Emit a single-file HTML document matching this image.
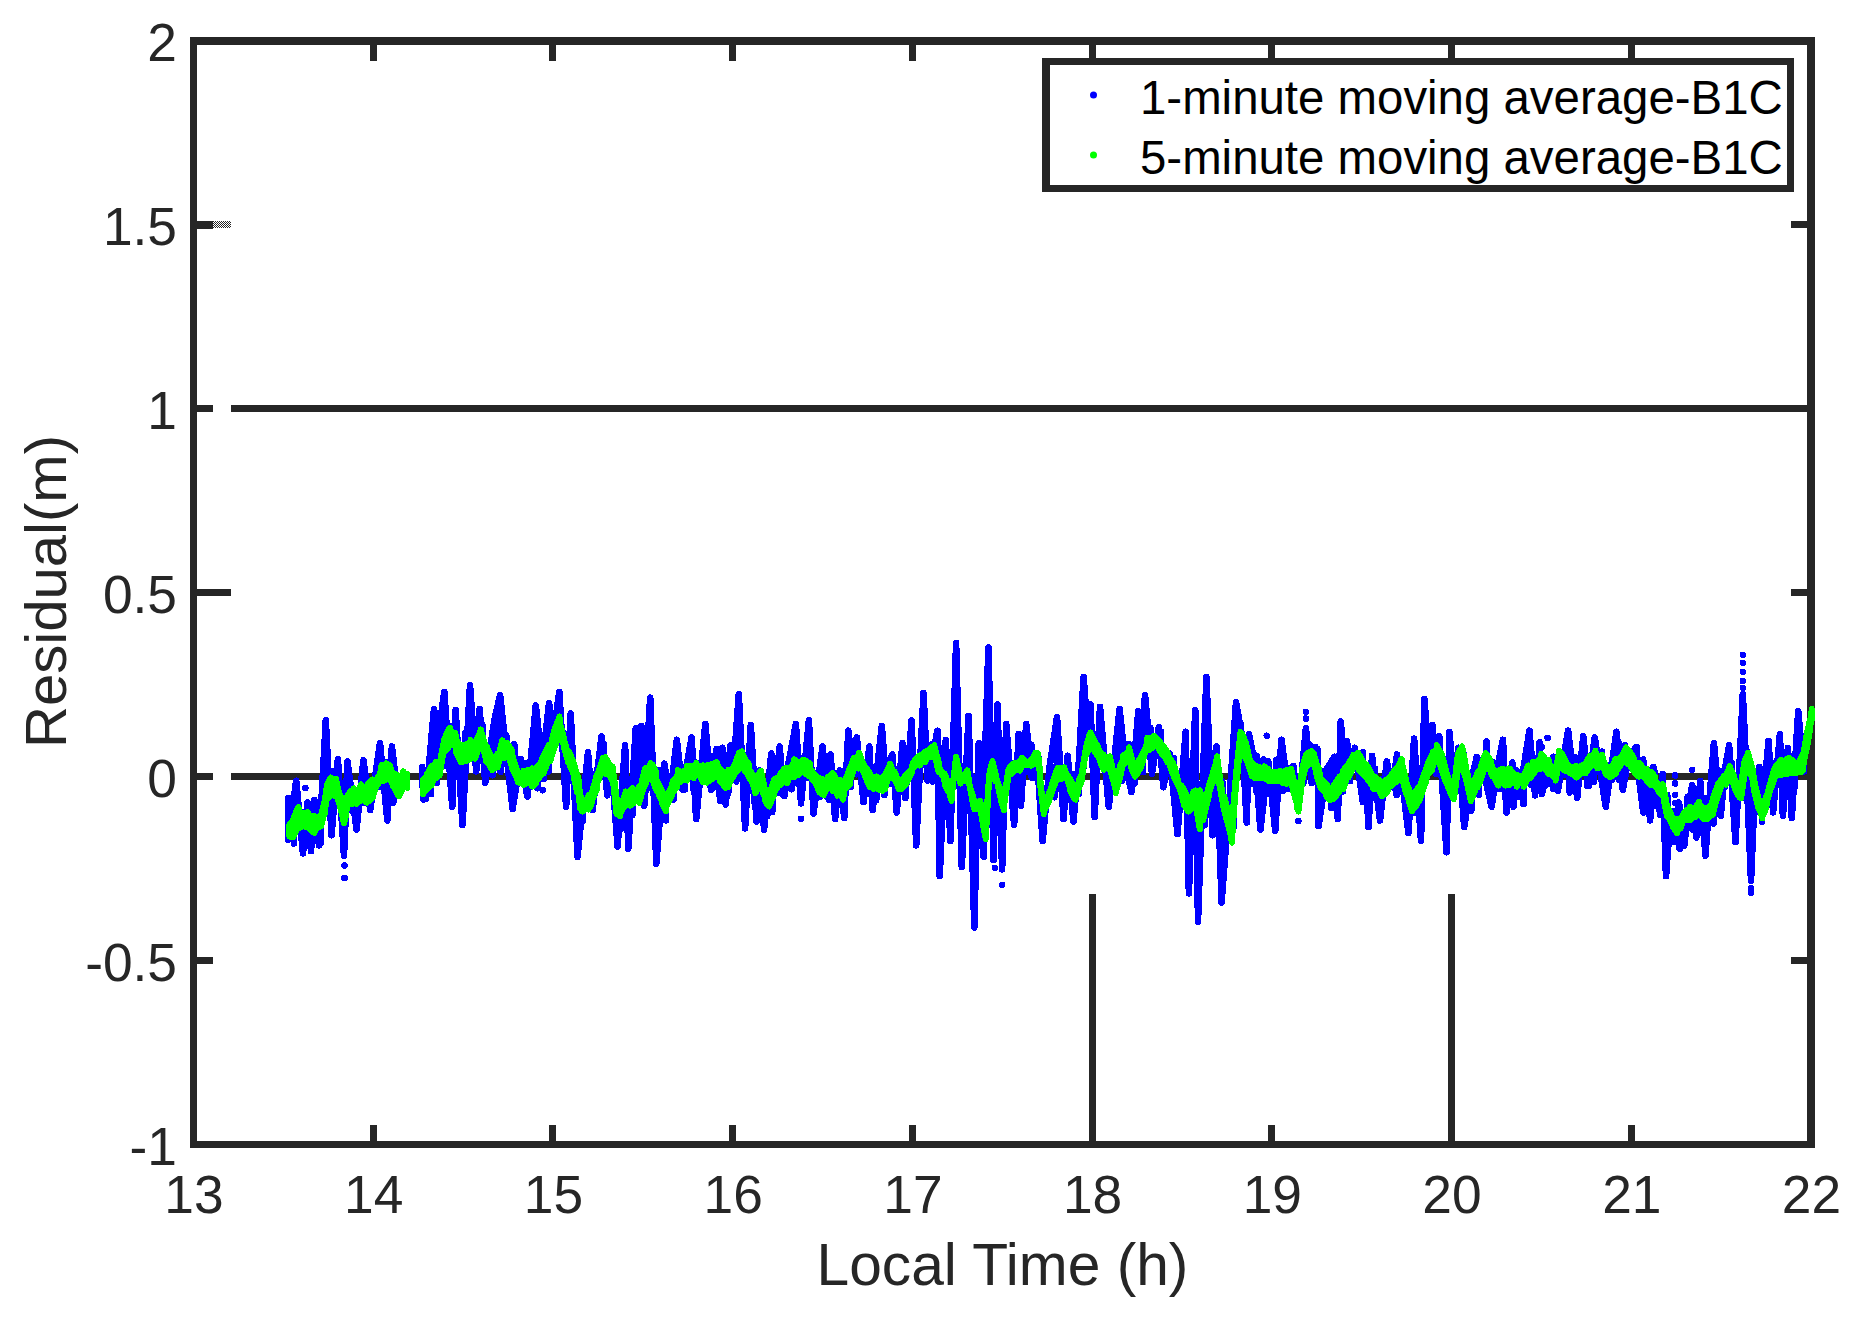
<!DOCTYPE html>
<html lang="en"><head><meta charset="utf-8"><title>Residual plot</title>
<style>html,body{margin:0;padding:0;background:#fff}svg{display:block}text{font-family:"Liberation Sans",Arial,Helvetica,sans-serif}</style></head><body>
<svg width="1863" height="1317" viewBox="0 0 1863 1317">
<defs><pattern id="chk" width="2" height="2" patternUnits="userSpaceOnUse"><rect x="0" y="0" width="1" height="1" fill="#262626"/><rect x="1" y="1" width="1" height="1" fill="#262626"/></pattern></defs>
<rect width="1863" height="1317" fill="#fff"/>
<g shape-rendering="crispEdges">
<rect x="190" y="37" width="1625" height="8" fill="#262626"/>
<rect x="190" y="1141" width="1625" height="7" fill="#262626"/>
<rect x="190" y="37" width="7" height="1111" fill="#262626"/>
<rect x="1807" y="37" width="8" height="1111" fill="#262626"/>
<rect x="370" y="45" width="7" height="16" fill="#262626"/>
<rect x="370" y="1125" width="7" height="16" fill="#262626"/>
<rect x="549" y="45" width="7" height="16" fill="#262626"/>
<rect x="549" y="1125" width="7" height="16" fill="#262626"/>
<rect x="729" y="45" width="7" height="16" fill="#262626"/>
<rect x="729" y="1125" width="7" height="16" fill="#262626"/>
<rect x="909" y="45" width="7" height="16" fill="#262626"/>
<rect x="909" y="1125" width="7" height="16" fill="#262626"/>
<rect x="1089" y="45" width="7" height="16" fill="#262626"/>
<rect x="1089" y="1125" width="7" height="16" fill="#262626"/>
<rect x="1268" y="45" width="7" height="16" fill="#262626"/>
<rect x="1268" y="1125" width="7" height="16" fill="#262626"/>
<rect x="1448" y="45" width="7" height="16" fill="#262626"/>
<rect x="1448" y="1125" width="7" height="16" fill="#262626"/>
<rect x="1628" y="45" width="7" height="16" fill="#262626"/>
<rect x="1628" y="1125" width="7" height="16" fill="#262626"/>
<rect x="197" y="221" width="16" height="8" fill="#262626"/>
<rect x="1791" y="221" width="16" height="7" fill="#262626"/>
<rect x="197" y="405" width="16" height="7" fill="#262626"/>
<rect x="1791" y="405" width="16" height="7" fill="#262626"/>
<rect x="197" y="589" width="34" height="7" fill="#262626"/>
<rect x="1791" y="589" width="16" height="7" fill="#262626"/>
<rect x="197" y="773" width="16" height="7" fill="#262626"/>
<rect x="1791" y="773" width="16" height="7" fill="#262626"/>
<rect x="197" y="957" width="16" height="7" fill="#262626"/>
<rect x="1791" y="957" width="16" height="7" fill="#262626"/>
<rect x="213" y="221" width="18" height="7" fill="url(#chk)"/>
<rect x="231" y="405" width="1576" height="7" fill="#262626"/>
<rect x="231" y="773" width="1576" height="7" fill="#262626"/>
<rect x="1089" y="894" width="7" height="247" fill="#262626"/>
<rect x="1448" y="894" width="7" height="247" fill="#262626"/>
</g>
<g fill="none" stroke="#0000ff" stroke-width="6.6" stroke-linejoin="round" stroke-linecap="round" shape-rendering="crispEdges">
<path d="M293.8,821.9V843.5M298.6,806.7V827.3M303.3,811.8V825.2M309.6,816.2V825.0M315.7,810.6V830.0M321.1,808.9V842.9M328.0,781.4V813.0M332.6,771.6V794.9M337.7,786.9V800.9M345.5,804.6V825.2M352.5,788.7V811.1M357.3,795.7V806.8M364.5,784.6V802.8M371.3,780.3V798.5M379.0,766.6V786.8M385.8,762.0V793.2M393.2,772.2V802.5M423.5,781.6V799.7M431.0,761.9V794.2M436.8,753.2V783.2M443.6,736.3V765.7M451.9,725.8V752.6M456.6,727.5V758.6M465.1,733.0V760.3M471.1,733.7V753.5M477.5,739.5V750.8M482.2,724.2V747.8M487.7,745.2V773.8M492.5,750.8V775.2M500.6,734.7V771.7M506.2,735.2V755.6M514.2,744.1V771.8M519.4,768.4V783.0M525.9,763.4V785.7M530.4,766.1V786.7M537.2,751.5V788.3M543.7,749.2V779.0M548.4,734.1V771.4M556.4,715.1V743.7M562.5,731.9V750.8M567.3,750.2V761.0M572.4,758.3V772.0M576.9,776.0V786.7M582.9,799.4V820.8M589.8,795.3V808.6M595.7,773.6V788.9M603.6,743.4V774.2M610.1,766.3V775.5M615.9,792.4V817.0M621.1,805.9V828.5M627.7,792.7V810.4M632.3,783.4V815.0M640.2,776.8V799.1M646.2,768.7V790.6M652.8,756.4V781.2M658.2,769.8V806.4M666.1,786.8V820.4M673.6,780.9V799.6M679.5,774.8V781.8M685.1,767.1V789.3M693.5,760.2V789.8M701.9,753.5V781.9M707.3,766.3V779.5M712.6,756.4V788.3M720.5,765.6V790.8M728.2,774.3V793.0M736.3,749.5V781.5M742.7,753.5V775.9M748.6,755.5V791.6M754.7,774.5V803.4M762.0,776.4V787.5M767.2,781.0V816.1M772.2,775.5V812.2M779.4,771.8V793.1M784.4,773.3V796.0M791.5,758.5V789.3M797.7,748.8V783.6M803.1,758.4V773.7M808.5,757.7V778.1M814.7,773.1V796.8M820.6,772.9V796.6M828.7,771.0V799.7M835.2,773.3V797.2M839.8,778.5V795.1M844.3,771.3V793.8M850.7,759.0V786.8M856.5,749.9V774.2M864.2,764.0V781.3M869.7,770.3V794.2M876.2,771.8V800.2M884.3,771.3V795.2M890.9,757.6V784.1M897.2,771.2V794.4M905.4,765.2V797.9M913.7,759.2V779.1M922.0,742.0V764.6M927.0,745.6V760.3M932.4,743.9V781.4M940.1,747.7V780.8M947.4,767.9V796.0M955.5,740.8V777.7M963.8,766.6V803.1M972.2,776.6V808.7M978.5,789.8V822.8M983.7,812.6V856.8M988.3,773.9V811.6M992.9,757.4V798.1M999.4,783.0V832.6M1007.1,758.4V791.0M1012.7,763.7V804.8M1018.2,760.1V775.5M1026.4,747.2V771.5M1031.5,745.1V776.5M1038.8,758.1V766.6M1046.0,795.6V810.0M1054.3,766.9V797.3M1059.1,755.7V777.4M1067.1,767.3V786.7M1073.8,774.4V800.7M1078.8,774.9V793.9M1083.7,757.8V767.4M1089.1,734.1V750.6M1096.6,740.8V760.2M1101.8,749.6V761.8M1107.3,759.7V778.5M1114.0,773.6V790.8M1122.2,759.0V780.7M1128.5,743.9V772.5M1134.5,757.3V783.6M1143.0,746.2V772.1M1150.3,727.9V751.6M1156.2,737.6V746.7M1161.0,731.8V754.7M1166.1,751.2V772.9M1174.1,758.5V780.7M1179.6,779.3V798.1M1184.7,787.8V805.9M1193.1,769.6V820.9M1198.5,785.9V829.6M1204.5,803.5V825.3M1210.9,765.2V794.0M1217.4,760.9V779.2M1222.2,781.1V802.4M1226.8,802.0V826.9M1233.7,799.3V827.1M1240.8,724.5V757.6M1246.9,745.8V774.1M1252.0,754.9V784.2M1256.6,755.7V791.1M1263.6,759.5V791.8M1268.7,763.7V787.1M1276.5,759.7V793.4M1283.4,757.9V790.7M1290.7,768.0V778.5M1295.7,785.4V799.4M1303.5,756.7V782.8M1310.5,745.3V771.2M1315.0,746.8V779.1M1321.6,770.8V797.1M1326.3,775.2V798.0M1331.1,784.8V807.7M1336.4,773.7V808.8M1342.9,770.7V791.4M1350.1,751.7V781.2M1357.2,754.7V764.5M1362.7,752.2V776.0M1369.5,773.5V780.7M1375.1,768.8V798.0M1382.3,779.0V798.7M1388.6,772.8V788.7M1396.7,768.9V794.9M1405.0,777.6V791.7M1412.7,783.0V813.1M1418.3,788.8V814.4M1423.7,767.4V785.7M1430.3,746.2V770.6M1438.0,743.6V773.3M1445.4,765.5V790.7M1451.8,785.5V791.9M1458.3,750.2V769.0M1463.3,752.2V769.4M1471.2,792.0V810.8M1479.0,771.0V794.8M1486.4,741.6V767.8M1492.4,761.8V791.5M1499.2,769.5V789.0M1504.8,773.0V781.5M1512.7,768.3V798.8M1518.2,771.9V793.1M1523.4,771.8V804.2M1531.5,752.1V785.2M1539.6,742.3V775.9M1547.0,762.1V784.4M1553.3,756.7V789.0M1559.0,755.2V781.5M1564.0,753.3V774.5M1569.7,753.4V792.4M1575.2,757.5V781.0M1581.9,758.0V774.2M1587.1,757.6V786.1M1593.6,753.3V782.1M1602.0,751.7V768.2M1607.3,765.0V779.7M1612.2,764.1V779.6M1619.0,743.1V779.9M1625.1,745.3V769.4M1631.1,751.9V764.9M1636.7,747.3V772.4M1643.2,759.5V794.4M1648.6,770.5V786.3M1654.7,772.1V805.7M1662.6,774.1V794.9M1667.2,794.8V836.0M1673.6,811.5V827.7M1679.7,806.4V848.8M1687.6,797.2V825.3M1692.5,805.8V829.5M1699.8,792.5V832.4M1706.9,798.1V826.7M1713.6,800.3V823.4M1719.0,770.6V805.8M1724.7,773.7V787.2M1731.8,763.4V783.6M1736.5,775.0V802.2M1742.6,775.4V797.8M1747.1,751.4V772.2M1755.5,776.5V812.0M1761.9,806.6V821.7M1770.2,771.7V796.1M1774.8,762.8V791.4M1781.0,760.3V784.7M1789.2,758.5V769.1M1795.0,759.1V786.6M288.2,797.9V833.6M296.2,780.8V821.5M303.0,853.4V821.1M307.6,802.5V820.9M311.0,851.1V820.9M314.4,800.2V823.6M319.0,845.4V821.8M325.8,720.4V797.2M331.5,835.2V786.7M337.9,759.2V792.2M344.0,855.7V817.7M347.4,761.5V799.5M356.6,829.5V800.6M363.4,760.3V793.4M370.2,810.1V790.3M380.0,743.2V777.1M387.3,820.4V772.7M391.9,746.6V776.7M397.6,794.2V786.2M422.2,767.1V785.8M426.0,798.7V782.5M434.0,709.1V772.6M438.6,732.7V768.6M444.3,692.0V747.1M452.2,806.7V738.7M455.6,710.2V742.5M462.5,824.9V753.8M470.0,685.1V750.0M476.2,771.4V749.0M479.6,709.1V741.0M485.3,782.8V750.8M494.4,719.7V762.1M500.1,695.4V755.3M506.9,758.5V745.9M512.6,809.0V761.6M520.6,759.2V776.9M527.4,796.5V778.0M535.8,705.6V774.7M549.0,703.4V753.9M553.6,732.7V741.7M559.3,692.0V726.6M566.1,806.7V750.5M570.7,713.6V763.9M577.5,856.8V784.1M588.0,752.3V803.6M592.5,810.1V795.4M601.6,736.4V765.8M607.3,795.3V766.6M617.6,846.6V806.7M625.1,745.5V800.5M628.3,848.8V797.8M635.8,728.4V795.1M638.8,755.5V794.9M641.5,726.1V787.6M644.2,805.6V778.9M650.2,697.7V767.9M656.3,863.7V781.2M664.3,763.7V800.7M676.8,739.8V781.6M682.5,789.6V776.3M691.6,737.5V771.5M696.2,819.2V769.8M705.3,723.9V774.4M711.0,789.6V771.0M716.7,748.9V767.6M720.1,801.0V775.8M722.4,747.8V778.6M725.8,804.4V778.8M730.3,745.5V775.3M738.8,694.3V762.0M745.1,828.3V764.7M750.8,725.0V776.7M756.5,821.5V784.3M760.0,770.6V780.0M764.1,829.5V790.3M771.3,753.5V795.5M779.8,746.6V780.3M782.7,794.2V777.7M795.9,723.9V767.3M801.0,803.3V765.3M808.9,720.4V771.1M813.5,813.5V776.7M822.6,746.6V785.0M827.2,796.5V782.6M830.6,754.6V779.4M835.1,819.2V785.2M839.7,770.6V789.0M844.2,818.1V788.1M848.3,730.7V779.9M856.8,737.5V761.5M863.6,802.1V767.8M869.3,746.6V777.4M872.7,810.1V782.0M881.8,726.1V783.5M892.3,754.6V772.1M896.8,812.4V782.4M902.5,743.2V783.7M911.6,720.4V769.5M916.2,845.4V764.1M923.5,693.1V758.4M927.6,780.5V755.4M937.4,730.7V760.8M939.7,876.2V768.9M945.8,739.8V781.6M950.4,840.9V792.2M956.1,643.0V759.6M961.8,867.1V780.5M968.6,715.9V781.6M974.3,927.4V806.3M978.8,743.2V804.5M983.4,810.1V821.8M988.4,647.6V788.1M993.6,860.2V771.0M997.5,704.5V782.7M1002.1,869.3V797.9M1006.2,723.9V788.3M1014.1,824.9V768.4M1018.7,734.1V765.0M1021.0,805.6V764.1M1026.2,723.9V764.1M1032.4,778.2V762.4M1042.6,840.9V802.5M1049.5,767.6V794.9M1057.0,717.0V774.5M1063.6,819.2V770.7M1067.7,755.8V779.6M1073.4,821.5V792.3M1079.1,758.5V786.1M1083.6,677.2V764.4M1087.7,732.7V745.5M1090.5,704.5V739.1M1094.6,817.0V745.5M1100.0,706.8V755.1M1108.7,806.7V763.0M1114.4,758.5V781.2M1119.6,709.1V772.4M1125.8,767.6V758.9M1131.5,791.9V760.5M1138.3,711.3V764.6M1141.7,732.7V758.3M1145.1,695.4V749.5M1152.0,773.7V740.6M1158.8,727.3V744.7M1163.3,787.3V751.2M1169.7,753.5V762.7M1177.5,834.0V781.7M1185.7,731.8V800.1M1188.9,893.3V804.5M1195.2,710.2V796.0M1198.0,921.7V811.8M1206.4,677.2V800.1M1212.5,835.2V777.8M1216.4,746.6V766.2M1221.6,902.4V792.4M1229.6,797.2V825.1M1236.0,702.2V782.4M1246.7,822.6V753.8M1249.0,734.1V761.8M1260.4,829.5V774.5M1268.3,761.5V775.5M1275.2,830.6V776.2M1281.5,739.8V776.4M1287.7,787.3V775.4M1293.4,766.0V784.7M1305.9,728.4V761.2M1311.6,782.8V759.6M1317.3,748.9V772.2M1318.5,826.1V776.7M1327.6,767.6V791.1M1334.4,756.9V791.7M1337.8,819.2V787.6M1340.8,721.6V784.1M1344.0,764.6V778.2M1346.9,740.9V772.5M1354.9,747.8V761.8M1362.9,802.1V768.0M1368.6,827.2V775.5M1372.0,755.8V779.8M1380.0,820.4V788.1M1386.8,761.5V784.6M1397.0,754.6V774.8M1402.7,785.8V771.8M1408.4,832.9V792.9M1414.1,738.7V800.7M1421.0,840.9V788.2M1424.4,698.8V778.2M1432.3,725.0V761.2M1435.8,773.7V754.9M1439.2,736.4V757.7M1446.5,852.3V775.8M1449.4,731.8V784.6M1458.5,747.8V758.9M1464.2,827.2V765.5M1471.1,781.2V795.4M1476.8,756.9V781.7M1484.7,776.7V761.8M1491.6,806.7V769.9M1497.3,767.6V777.6M1503.0,739.8V777.4M1506.4,812.4V776.7M1512.3,762.6V775.9M1513.4,806.7V776.7M1516.8,770.6V779.0M1519.1,796.5V779.7M1529.4,730.7V771.7M1535.1,795.3V765.6M1541.9,794.2V761.3M1557.8,790.8V764.2M1568.1,730.7V768.1M1577.2,797.6V771.3M1583.3,736.4V766.7M1588.6,786.2V763.2M1594.7,737.5V759.3M1601.1,776.7V761.8M1605.7,806.7V766.8M1616.4,731.8V764.1M1622.8,789.6V757.6M1635.3,747.8V765.3M1643.3,812.4V773.3M1650.1,820.4V779.2M1653.5,767.1V781.8M1660.3,814.7V788.1M1666.0,876.2V804.0M1674.0,842.0V824.1M1678.6,802.5V825.1M1684.3,845.4V817.3M1688.8,804.0V814.0M1692.2,785.4V812.1M1696.3,837.5V810.3M1700.2,780.8V810.1M1705.4,855.7V815.0M1710.5,785.8V809.3M1713.9,743.2V803.1M1720.7,815.8V786.0M1725.3,767.6V778.4M1729.1,745.5V775.0M1735.5,842.0V785.8M1740.1,753.9V790.9M1742.8,694.3V780.7M1746.9,781.2V760.3M1751.0,880.7V769.7M1759.4,767.1V807.0M1763.3,801.0V811.3M1768.5,740.9V791.6M1773.1,812.4V778.2M1779.9,734.1V768.8M1782.9,815.8V767.0M1787.9,747.8V765.6M1791.8,818.1V767.1M1798.2,711.3V767.6M1803.8,771.4V756.9"/>
<polyline points="288.2,797.9 288.2,839.7 296.2,780.8 303.0,853.4 307.6,802.5 311.0,851.1 314.4,800.2 319.0,845.4 325.8,720.4 331.5,835.2 337.9,759.2 344.0,855.7 347.4,761.5 356.6,829.5 363.4,760.3 370.2,810.1 380.0,743.2 387.3,820.4 391.9,746.6 397.6,794.2"/>
<polyline points="422.2,767.1 426.0,798.7 434.0,709.1 438.6,732.7 444.3,692.0 452.2,806.7 455.6,710.2 462.5,824.9 470.0,685.1 476.2,771.4 479.6,709.1 485.3,782.8 494.4,719.7 500.1,695.4 506.9,758.5 512.6,809.0 520.6,759.2 527.4,796.5 535.8,705.6 542.2,764.6 549.0,703.4 553.6,732.7 559.3,692.0 566.1,806.7 570.7,713.6 577.5,856.8 588.0,752.3 592.5,810.1 601.6,736.4 607.3,795.3 611.9,770.6 617.6,846.6 625.1,745.5 628.3,848.8 635.8,728.4 638.8,755.5 641.5,726.1 644.2,805.6 650.2,697.7 656.3,863.7 664.3,763.7 670.0,796.5 676.8,739.8 682.5,789.6 691.6,737.5 696.2,819.2 705.3,723.9 711.0,789.6 716.7,748.9 720.1,801.0 722.4,747.8 725.8,804.4 730.3,745.5 733.8,764.6 738.8,694.3 745.1,828.3 750.8,725.0 756.5,821.5 760.0,770.6 764.1,829.5 771.3,753.5 775.4,782.8 779.8,746.6 782.7,794.2 795.9,723.9 801.0,803.3 808.9,720.4 813.5,813.5 822.6,746.6 827.2,796.5 830.6,754.6 835.1,819.2 839.7,770.6 844.2,818.1 848.3,730.7 852.2,764.6 856.8,737.5 863.6,802.1 869.3,746.6 872.7,810.1 881.8,726.1 886.4,785.1 892.3,754.6 896.8,812.4 902.5,743.2 907.1,782.8 911.6,720.4 916.2,845.4 923.5,693.1 927.6,780.5 932.1,758.5 937.4,730.7 939.7,876.2 945.8,739.8 950.4,840.9 956.1,643.0 961.8,867.1 968.6,715.9 974.3,927.4 978.8,743.2 983.4,810.1 988.4,647.6 993.6,860.2 997.5,704.5 1002.1,869.3 1006.2,723.9 1014.1,824.9 1018.7,734.1 1021.0,805.6 1026.2,723.9 1032.4,778.2 1036.9,756.9 1042.6,840.9 1049.5,767.6 1057.0,717.0 1063.6,819.2 1067.7,755.8 1073.4,821.5 1079.1,758.5 1083.6,677.2 1087.7,732.7 1090.5,704.5 1094.6,817.0 1100.0,706.8 1108.7,806.7 1114.4,758.5 1119.6,709.1 1125.8,767.6 1131.5,791.9 1138.3,711.3 1141.7,732.7 1145.1,695.4 1152.0,773.7 1158.8,727.3 1163.3,787.3 1169.7,753.5 1177.5,834.0 1185.7,731.8 1188.9,893.3 1195.2,710.2 1198.0,921.7 1206.4,677.2 1212.5,835.2 1216.4,746.6 1221.6,902.4 1229.6,797.2 1236.0,702.2 1242.1,735.7 1246.7,822.6 1249.0,734.1 1255.8,767.6 1260.4,829.5 1268.3,761.5 1275.2,830.6 1281.5,739.8 1287.7,787.3 1293.4,766.0 1298.4,810.1 1305.9,728.4 1311.6,782.8 1317.3,748.9 1318.5,826.1 1327.6,767.6 1334.4,756.9 1337.8,819.2 1340.8,721.6 1344.0,764.6 1346.9,740.9 1350.8,773.7 1354.9,747.8 1362.9,802.1 1365.8,779.7 1368.6,827.2 1372.0,755.8 1380.0,820.4 1386.8,761.5 1392.5,787.3 1397.0,754.6 1402.7,785.8 1408.4,832.9 1414.1,738.7 1421.0,840.9 1424.4,698.8 1428.9,764.6 1432.3,725.0 1435.8,773.7 1439.2,736.4 1446.5,852.3 1449.4,731.8 1454.0,782.8 1458.5,747.8 1464.2,827.2 1471.1,781.2 1476.8,756.9 1484.7,776.7 1491.6,806.7 1497.3,767.6 1503.0,739.8 1506.4,812.4 1512.3,762.6 1513.4,806.7 1516.8,770.6 1519.1,796.5 1529.4,730.7 1535.1,795.3 1538.5,756.9 1541.9,794.2 1549.9,761.5 1557.8,790.8 1568.1,730.7 1572.6,767.6 1577.2,797.6 1583.3,736.4 1588.6,786.2 1594.7,737.5 1601.1,776.7 1605.7,806.7 1616.4,731.8 1622.8,789.6 1628.5,758.5 1635.3,747.8 1643.3,812.4 1646.7,784.2 1650.1,820.4 1653.5,767.1 1660.3,814.7 1663.1,791.1 1666.0,876.2 1670.6,816.1 1674.0,842.0 1678.6,802.5 1684.3,845.4 1688.8,804.0 1692.2,785.4 1696.3,837.5 1700.2,780.8 1705.4,855.7 1710.5,785.8 1713.9,743.2 1720.7,815.8 1725.3,767.6 1729.1,745.5 1735.5,842.0 1740.1,753.9 1742.8,694.3 1746.9,781.2 1751.0,880.7 1754.9,788.1 1759.4,767.1 1763.3,801.0 1768.5,740.9 1773.1,812.4 1779.9,734.1 1782.9,815.8 1787.9,747.8 1791.8,818.1 1798.2,711.3 1803.8,771.4"/>
<path d="M305.3,788.1h0.01M344.5,865.5h0.01M344.5,878.0h0.01M542.7,790.3h0.01M549.0,704.9h0.01M801.0,818.8h0.01M636.9,731.1h0.01M636.9,740.2h0.01M994.8,867.8h0.01M1002.1,884.9h0.01M997.5,708.3h0.01M997.5,717.4h0.01M988.4,706.1h0.01M988.4,715.2h0.01M988.4,724.3h0.01M1266.7,735.7h0.01M1288.8,789.2h0.01M1298.4,821.1h0.01M1305.9,711.8h0.01M1305.9,718.6h0.01M1541.9,747.1h0.01M1547.6,737.9h0.01M1675.1,775.5h0.01M1675.1,783.5h0.01M1675.1,794.9h0.01M1675.1,802.9h0.01M1692.2,769.8h0.01M1742.8,654.8h0.01M1742.8,662.8h0.01M1742.8,671.9h0.01M1742.8,681.0h0.01M1742.8,687.8h0.01M1751.0,888.3h0.01M1751.0,892.8h0.01"/>
</g>
<g fill="#00ff00" stroke="#00ff00" stroke-width="6" stroke-linejoin="round" shape-rendering="crispEdges">
<polygon points="289.4,824.4 292.8,820.9 294.8,814.7 298.5,807.0 300.0,812.7 304.2,817.9 304.5,812.6 308.1,812.4 309.9,816.7 314.0,815.6 315.6,818.9 317.9,817.0 321.3,814.6 323.4,805.7 324.7,801.0 326.9,785.4 327.1,784.8 330.8,777.6 332.6,781.9 336.0,778.6 337.2,784.8 339.9,795.5 340.6,795.3 344.0,808.9 345.8,802.3 347.4,796.1 350.3,791.0 352.0,790.4 353.8,788.4 356.6,796.2 357.5,793.6 361.1,784.5 361.8,790.4 366.8,786.9 367.9,783.9 372.6,779.6 374.8,782.5 376.0,780.5 380.2,773.3 381.6,765.0 383.9,768.3 386.2,763.4 389.8,765.5 391.9,771.3 393.2,774.0 396.4,774.5 398.7,780.7 399.5,781.6 403.3,771.4 403.7,774.1 407.1,774.0 407.1,787.8 403.7,783.2 403.3,787.1 399.5,795.4 398.7,796.3 396.4,791.9 393.2,786.2 391.9,782.6 389.8,779.5 386.2,777.8 383.9,781.0 381.6,780.9 380.2,780.4 376.0,787.3 374.8,790.6 372.6,797.9 367.9,801.8 366.8,802.7 361.8,798.9 361.1,800.6 357.5,802.4 356.6,804.0 353.8,802.6 352.0,804.3 350.3,801.7 347.4,803.0 345.8,816.8 344.0,823.2 340.6,809.2 339.9,806.3 337.2,796.5 336.0,796.7 332.6,794.5 330.8,795.5 327.1,798.8 326.9,794.6 324.7,813.5 323.4,816.4 321.3,826.0 317.9,827.4 315.6,830.2 314.0,832.9 309.9,829.7 308.1,827.0 304.5,826.7 304.2,825.4 300.0,827.6 298.5,824.0 294.8,834.1 292.8,837.4 289.4,836.6"/>
<polygon points="423.1,779.1 427.0,776.6 427.2,773.7 431.7,765.8 434.0,768.1 435.8,761.9 439.7,764.5 441.0,755.9 443.1,744.7 444.6,738.3 448.3,729.7 450.0,727.9 452.1,733.2 455.5,733.2 455.6,737.2 461.2,749.3 461.3,745.0 465.9,744.7 465.9,744.2 469.9,742.4 470.5,739.9 474.1,745.0 475.0,742.7 480.1,732.0 480.7,729.4 484.6,742.9 486.4,745.8 488.3,749.9 492.1,757.9 493.7,757.9 497.8,753.4 498.7,755.1 502.3,740.4 504.6,743.8 506.9,742.7 507.9,745.0 511.5,748.9 512.4,755.6 517.2,770.4 517.8,771.7 522.8,775.2 523.3,770.6 529.1,770.4 529.7,769.9 532.2,768.4 536.1,771.1 536.5,767.3 539.4,764.9 543.0,757.0 543.3,756.5 548.9,744.9 550.2,748.2 553.7,732.4 554.7,729.0 559.5,716.5 559.7,721.7 563.6,737.0 563.8,738.7 568.4,755.2 569.2,751.4 573.5,762.1 574.1,764.7 577.3,774.6 578.7,780.6 580.0,794.9 582.6,799.4 585.7,803.1 588.5,795.1 591.4,795.5 591.8,793.2 596.6,775.3 597.1,776.3 601.5,762.1 602.8,758.1 605.1,757.1 608.5,762.5 609.2,764.3 612.6,766.6 613.0,770.6 616.2,794.0 616.4,797.2 619.9,809.3 620.0,806.3 624.8,795.5 625.6,791.5 629.8,792.0 632.4,787.9 633.4,789.0 636.4,791.1 639.2,786.4 640.4,788.0 644.9,768.4 645.4,772.1 649.0,767.3 650.6,763.2 652.9,765.0 656.3,771.9 656.5,779.3 661.9,791.0 662.0,791.2 666.1,795.5 666.6,798.8 669.7,789.6 671.1,787.7 673.1,780.6 677.2,776.5 677.9,770.3 681.9,772.3 686.8,769.4 687.1,765.9 690.1,766.1 693.6,767.5 696.2,762.9 698.7,768.0 702.9,765.2 705.3,767.0 706.7,765.5 710.7,764.3 716.5,762.7 716.7,762.3 720.5,771.4 721.2,769.8 725.2,775.7 728.1,770.2 729.2,774.4 733.5,766.4 734.9,763.7 739.1,752.7 741.7,751.3 745.1,759.4 748.6,763.4 749.1,769.2 752.7,774.7 755.4,779.6 757.9,774.8 761.1,770.7 761.5,773.2 764.6,787.4 765.6,791.9 769.1,799.3 770.3,790.6 773.6,780.9 774.5,779.2 780.0,776.3 780.5,773.8 784.2,768.7 787.3,767.8 789.9,768.6 794.1,762.3 794.2,759.3 797.7,762.4 800.8,761.5 802.1,760.2 805.4,760.5 810.1,763.7 810.3,768.9 816.1,776.5 816.9,777.0 819.3,778.1 823.7,779.6 824.2,781.7 828.3,776.7 830.6,775.6 832.8,773.0 836.3,779.0 837.4,784.9 840.1,779.9 843.1,787.1 844.7,782.0 849.9,767.3 850.5,767.1 853.8,757.8 854.5,757.9 858.3,756.4 859.0,752.6 863.7,764.7 864.7,765.9 869.6,772.7 871.6,778.5 873.2,777.0 876.6,776.5 878.4,778.4 882.4,777.1 885.2,774.3 888.3,767.8 889.8,766.3 890.0,763.6 892.8,770.5 894.6,771.7 895.9,774.0 899.1,785.3 901.7,781.0 905.9,774.5 905.9,776.7 911.6,768.3 912.8,762.8 916.4,758.0 919.6,755.6 921.9,754.7 925.4,751.5 926.4,752.1 930.7,747.8 934.4,745.3 934.4,746.3 938.6,761.9 939.0,767.1 944.2,775.2 944.7,773.7 949.6,785.8 951.5,790.7 953.2,780.3 956.1,756.9 956.9,760.4 960.6,777.1 961.1,778.3 965.6,773.4 967.4,770.4 969.8,785.6 973.1,796.9 974.3,801.1 976.9,802.8 980.0,800.8 982.0,808.2 985.7,833.6 987.7,795.7 989.1,775.8 990.9,766.7 992.5,761.2 995.5,773.3 997.1,780.8 1000.8,790.0 1003.9,800.5 1003.9,799.0 1008.5,769.2 1009.4,767.6 1012.8,763.8 1017.6,762.4 1019.8,761.5 1022.2,757.8 1027.1,762.9 1031.0,759.6 1031.2,761.6 1035.3,752.9 1038.1,753.3 1040.1,771.1 1040.3,779.0 1043.8,813.0 1044.3,809.6 1049.3,791.6 1049.5,793.8 1053.6,778.7 1056.3,770.9 1058.0,768.0 1061.0,768.7 1064.3,767.4 1065.9,772.2 1070.0,779.6 1070.4,779.0 1074.1,789.0 1075.6,794.2 1079.4,778.5 1081.3,775.2 1084.7,755.0 1085.9,747.9 1089.1,735.9 1090.5,732.4 1092.6,737.0 1097.0,745.1 1097.3,744.9 1100.4,753.1 1103.7,754.5 1104.1,759.5 1108.0,757.5 1109.8,756.3 1111.3,762.2 1115.5,781.5 1115.6,782.3 1120.2,765.8 1122.3,761.6 1123.3,755.4 1128.2,752.2 1129.2,747.4 1131.4,757.6 1134.9,766.2 1136.6,764.4 1140.6,757.2 1142.0,755.3 1146.5,744.9 1147.4,737.6 1149.7,739.2 1154.2,736.4 1154.2,736.0 1158.3,739.8 1161.1,743.5 1164.2,747.0 1167.6,752.3 1167.9,754.9 1173.1,763.2 1174.7,767.4 1179.1,784.7 1181.6,785.8 1184.3,790.3 1188.4,798.7 1189.8,801.3 1193.4,791.7 1195.2,790.6 1199.3,818.3 1199.8,821.2 1200.0,790.3 1203.4,806.0 1203.8,807.3 1209.1,784.9 1209.6,783.0 1215.4,765.1 1217.1,756.2 1218.9,770.4 1222.8,795.9 1224.3,796.2 1230.0,818.7 1231.9,829.9 1233.2,808.0 1236.4,769.9 1237.3,760.9 1240.5,731.9 1242.6,734.6 1245.6,741.8 1246.0,743.1 1251.3,766.0 1251.7,762.8 1255.6,766.1 1259.2,766.7 1261.0,769.0 1264.4,766.4 1268.3,769.1 1268.9,771.2 1274.7,772.0 1278.3,773.1 1279.7,770.7 1282.1,773.4 1286.6,769.8 1290.6,771.4 1291.1,768.9 1293.7,780.0 1296.8,793.2 1297.2,792.7 1298.4,803.3 1300.7,778.6 1302.5,766.8 1305.9,754.7 1306.5,753.9 1311.6,751.2 1313.9,753.8 1317.3,766.6 1318.5,767.4 1320.8,778.3 1325.3,783.4 1326.1,783.7 1329.5,789.1 1333.3,786.3 1334.1,784.8 1339.0,777.2 1341.2,778.7 1343.1,770.6 1348.1,764.2 1348.7,763.6 1353.3,754.9 1357.2,756.2 1358.1,752.8 1363.7,762.5 1364.0,765.0 1367.0,765.1 1373.0,776.0 1373.1,775.4 1377.9,779.8 1380.0,780.2 1382.1,783.0 1387.5,778.8 1389.1,778.1 1391.3,774.9 1395.9,768.4 1397.2,769.9 1401.6,758.8 1402.0,763.4 1406.1,779.4 1406.2,781.4 1411.4,796.0 1411.8,794.2 1415.7,791.6 1418.7,786.9 1419.2,788.5 1424.4,773.3 1425.5,770.3 1427.6,764.1 1432.3,754.2 1433.0,751.9 1436.8,750.2 1436.9,745.2 1441.7,754.5 1443.7,761.2 1447.7,776.5 1450.6,783.5 1452.4,786.8 1454.0,786.5 1457.4,757.7 1458.5,752.1 1461.4,748.0 1462.0,746.3 1464.4,757.3 1466.5,769.9 1467.5,773.8 1470.9,787.8 1471.1,788.0 1475.8,777.4 1477.9,771.7 1480.1,769.5 1484.6,754.9 1485.9,753.2 1490.3,759.6 1492.7,768.9 1493.7,769.5 1497.4,774.9 1498.4,771.0 1502.3,768.7 1505.2,769.6 1505.4,771.6 1508.4,768.4 1509.8,768.7 1510.0,769.0 1512.5,772.7 1515.8,774.6 1516.8,774.5 1519.9,776.2 1523.5,776.7 1523.7,775.2 1528.3,765.5 1530.5,768.0 1533.0,762.0 1536.7,762.3 1540.8,757.9 1541.5,753.8 1546.0,759.5 1548.7,759.6 1549.4,763.6 1555.2,772.8 1555.6,770.6 1558.9,753.6 1559.0,750.8 1562.3,754.2 1565.6,761.3 1566.9,763.2 1570.5,767.1 1576.1,766.1 1576.2,769.1 1581.5,765.5 1585.2,763.7 1585.7,763.4 1589.5,756.3 1592.5,758.3 1595.4,750.6 1597.5,757.8 1602.2,754.8 1603.4,760.6 1606.2,766.1 1610.2,767.9 1611.2,769.7 1615.5,759.0 1617.1,760.2 1621.3,757.1 1626.2,747.4 1626.5,748.3 1630.2,752.0 1633.0,756.4 1636.0,763.9 1639.1,763.2 1639.8,763.4 1643.7,769.0 1646.7,768.6 1647.9,774.3 1651.6,772.1 1654.8,776.2 1655.8,781.9 1660.1,786.2 1662.6,784.3 1663.2,785.3 1667.2,806.5 1667.8,806.8 1671.7,815.6 1673.6,821.1 1677.1,819.0 1677.4,821.9 1680.7,820.0 1683.1,814.1 1685.5,810.9 1690.0,808.5 1690.0,806.9 1694.9,808.4 1699.1,801.9 1700.4,806.2 1703.9,807.5 1705.9,809.5 1707.8,808.4 1711.7,803.4 1712.7,799.3 1714.9,792.2 1718.4,783.3 1720.5,780.8 1724.1,775.9 1725.9,775.9 1729.8,766.1 1731.0,770.4 1734.0,775.6 1735.5,782.0 1739.6,784.6 1741.2,783.8 1744.6,760.2 1744.8,761.2 1748.0,753.0 1749.2,757.3 1752.6,769.0 1754.4,781.4 1758.3,797.7 1758.8,799.6 1762.4,807.2 1762.5,807.5 1765.8,797.9 1767.4,793.4 1769.5,785.4 1772.6,775.2 1774.2,769.2 1776.6,765.1 1781.1,759.9 1781.9,765.5 1786.9,758.6 1789.0,758.1 1792.5,760.0 1795.9,764.3 1797.6,764.7 1801.4,756.8 1802.7,755.9 1806.1,738.8 1806.1,736.9 1809.5,721.5 1810.4,719.1 1811.8,708.7 1811.8,719.7 1810.4,724.9 1809.5,732.6 1806.1,752.6 1806.1,748.8 1802.7,770.5 1801.4,772.3 1797.6,769.9 1795.9,773.1 1792.5,773.4 1789.0,769.9 1786.9,774.1 1781.9,772.9 1781.1,775.3 1776.6,774.2 1774.2,779.1 1772.6,784.3 1769.5,792.7 1767.4,800.5 1765.8,809.2 1762.5,816.8 1762.4,818.3 1758.8,808.0 1758.3,808.0 1754.4,792.0 1752.6,780.4 1749.2,768.7 1748.0,758.2 1744.8,768.9 1744.6,774.7 1741.2,798.0 1739.6,797.6 1735.5,790.9 1734.0,785.6 1731.0,779.0 1729.8,776.6 1725.9,784.7 1724.1,782.0 1720.5,788.6 1718.4,794.7 1714.9,805.8 1712.7,814.8 1711.7,812.9 1707.8,818.9 1705.9,818.8 1703.9,818.9 1700.4,815.2 1699.1,811.9 1694.9,817.1 1690.0,818.7 1690.0,820.5 1685.5,820.0 1683.1,819.7 1680.7,828.2 1677.4,830.4 1677.1,833.5 1673.6,828.1 1671.7,824.0 1667.8,816.4 1667.2,817.0 1663.2,796.5 1662.6,796.1 1660.1,793.8 1655.8,786.3 1654.8,785.6 1651.6,785.4 1647.9,782.7 1646.7,780.2 1643.7,776.3 1639.8,774.3 1639.1,776.8 1636.0,774.4 1633.0,770.3 1630.2,765.8 1626.5,762.5 1626.2,756.6 1621.3,764.1 1617.1,770.3 1615.5,774.0 1611.2,776.6 1610.2,777.1 1606.2,774.9 1603.4,768.2 1602.2,766.3 1597.5,768.4 1595.4,764.8 1592.5,765.3 1589.5,767.5 1585.7,773.2 1585.2,772.9 1581.5,773.5 1576.2,777.5 1576.1,776.4 1570.5,773.5 1566.9,769.8 1565.6,771.3 1562.3,768.8 1559.0,767.0 1558.9,763.2 1555.6,780.5 1555.2,778.4 1549.4,772.5 1548.7,773.9 1546.0,770.2 1541.5,766.1 1540.8,768.8 1536.7,769.4 1533.0,774.4 1530.5,777.8 1528.3,778.5 1523.7,786.7 1523.5,783.0 1519.9,781.5 1516.8,786.8 1515.8,782.7 1512.5,779.0 1510.0,782.6 1509.8,785.0 1508.4,785.1 1505.4,781.4 1505.2,785.6 1502.3,780.8 1498.4,785.5 1497.4,784.2 1493.7,776.8 1492.7,776.7 1490.3,771.2 1485.9,764.5 1484.6,768.1 1480.1,782.0 1477.9,787.0 1475.8,788.8 1471.1,800.5 1470.9,801.1 1467.5,785.8 1466.5,781.2 1464.4,773.7 1462.0,760.1 1461.4,760.8 1458.5,764.1 1457.4,773.4 1454.0,799.0 1452.4,797.3 1450.6,793.5 1447.7,785.9 1443.7,776.8 1441.7,769.2 1436.9,759.4 1436.8,760.8 1433.0,762.4 1432.3,769.8 1427.6,774.1 1425.5,783.8 1424.4,785.5 1419.2,801.3 1418.7,800.7 1415.7,806.5 1411.8,811.3 1411.4,809.7 1406.2,791.9 1406.1,793.7 1402.0,777.1 1401.6,773.9 1397.2,781.6 1395.9,781.6 1391.3,786.2 1389.1,787.1 1387.5,792.0 1382.1,796.2 1380.0,792.1 1377.9,789.3 1373.1,788.9 1373.0,786.7 1367.0,778.8 1364.0,772.8 1363.7,775.0 1358.1,768.9 1357.2,761.9 1353.3,767.3 1348.7,777.4 1348.1,774.9 1343.1,789.4 1341.2,788.0 1339.0,792.2 1334.1,798.5 1333.3,797.2 1329.5,800.3 1326.1,795.6 1325.3,792.9 1320.8,787.9 1318.5,781.9 1317.3,778.1 1313.9,763.0 1311.6,763.8 1306.5,765.7 1305.9,767.0 1302.5,779.4 1300.7,793.3 1298.4,811.6 1297.2,808.7 1296.8,803.4 1293.7,793.1 1291.1,781.3 1290.6,781.7 1286.6,783.9 1282.1,782.6 1279.7,779.8 1278.3,780.7 1274.7,780.7 1268.9,780.9 1268.3,780.1 1264.4,778.5 1261.0,778.0 1259.2,777.9 1255.6,778.5 1251.7,775.9 1251.3,774.2 1246.0,757.6 1245.6,759.0 1242.6,750.1 1240.5,742.4 1237.3,775.9 1236.4,781.3 1233.2,821.2 1231.9,842.8 1230.0,832.2 1224.3,811.1 1222.8,803.7 1218.9,782.2 1217.1,773.1 1215.4,775.5 1209.6,790.9 1209.1,795.3 1203.8,815.9 1203.4,820.1 1200.0,802.2 1199.8,829.4 1199.3,826.6 1195.2,802.7 1193.4,804.0 1189.8,810.9 1188.4,811.6 1184.3,805.5 1181.6,794.6 1179.1,787.3 1174.7,778.9 1173.1,774.7 1167.9,759.9 1167.6,762.6 1164.2,756.0 1161.1,752.9 1158.3,748.1 1154.2,741.8 1154.2,746.7 1149.7,749.8 1147.4,748.3 1146.5,747.3 1142.0,764.5 1140.6,767.9 1136.6,774.6 1134.9,776.5 1131.4,768.4 1129.2,758.4 1128.2,759.0 1123.3,764.9 1122.3,766.8 1120.2,777.0 1115.6,793.0 1115.5,789.6 1111.3,773.6 1109.8,769.9 1108.0,767.0 1104.1,766.7 1103.7,769.8 1100.4,762.5 1097.3,751.9 1097.0,755.6 1092.6,747.5 1090.5,741.1 1089.1,749.4 1085.9,754.9 1084.7,759.5 1081.3,782.8 1079.4,787.0 1075.6,799.7 1074.1,798.2 1070.4,791.0 1070.0,787.6 1065.9,776.0 1064.3,776.3 1061.0,779.2 1058.0,775.6 1056.3,780.8 1053.6,787.3 1049.5,799.9 1049.3,800.6 1044.3,811.2 1043.8,814.2 1040.3,785.9 1040.1,778.2 1038.1,753.9 1035.3,763.5 1031.2,765.6 1031.0,764.6 1027.1,765.2 1022.2,765.5 1019.8,770.7 1017.6,765.7 1012.8,772.9 1009.4,775.3 1008.5,775.9 1003.9,807.0 1003.9,810.4 1000.8,799.6 997.1,781.4 995.5,781.7 992.5,770.0 990.9,776.7 989.1,778.7 987.7,805.1 985.7,839.1 982.0,819.5 980.0,804.6 976.9,808.6 974.3,809.2 973.1,804.7 969.8,786.5 967.4,780.6 965.6,780.3 961.1,781.8 960.6,783.5 956.9,768.9 956.1,760.6 953.2,783.4 951.5,800.8 949.6,793.7 944.7,785.1 944.2,777.8 939.0,770.8 938.6,771.9 934.4,753.8 934.4,750.3 930.7,757.5 926.4,756.8 925.4,762.1 921.9,762.0 919.6,765.6 916.4,764.1 912.8,768.7 911.6,773.5 905.9,784.8 905.9,784.2 901.7,788.8 899.1,789.3 895.9,781.7 894.6,779.9 892.8,777.1 890.0,767.9 889.8,772.9 888.3,777.4 885.2,788.7 882.4,791.0 878.4,789.5 876.6,788.0 873.2,788.8 871.6,785.3 869.6,786.8 864.7,775.4 863.7,771.7 859.0,765.8 858.3,768.6 854.5,766.0 853.8,769.0 850.5,780.0 849.9,784.8 844.7,789.8 843.1,799.7 840.1,793.7 837.4,795.6 836.3,789.5 832.8,791.1 830.6,783.9 828.3,784.7 824.2,794.3 823.7,795.3 819.3,792.3 816.9,786.3 816.1,784.0 810.3,776.8 810.1,776.6 805.4,773.7 802.1,768.8 800.8,772.5 797.7,775.3 794.2,770.9 794.1,777.4 789.9,775.3 787.3,783.2 784.2,781.4 780.5,785.3 780.0,783.7 774.5,791.8 773.6,796.4 770.3,803.4 769.1,806.5 765.6,802.1 764.6,796.7 761.5,788.9 761.1,782.0 757.9,788.9 755.4,793.3 752.7,783.4 749.1,777.3 748.6,775.6 745.1,771.4 741.7,763.2 739.1,769.7 734.9,772.9 733.5,776.0 729.2,784.0 728.1,787.3 725.2,787.8 721.2,781.7 720.5,782.3 716.7,771.0 716.5,776.4 710.7,779.7 706.7,782.6 705.3,778.4 702.9,782.2 698.7,773.8 696.2,773.7 693.6,778.3 690.1,774.7 687.1,780.5 686.8,776.9 681.9,780.9 677.9,783.1 677.2,786.7 673.1,792.2 671.1,796.9 669.7,800.4 666.6,805.8 666.1,811.4 662.0,803.8 661.9,801.5 656.5,789.1 656.3,790.3 652.9,780.6 650.6,770.6 649.0,772.7 645.4,785.2 644.9,783.7 640.4,798.6 639.2,802.9 636.4,797.9 633.4,803.6 632.4,804.2 629.8,805.7 625.6,804.4 624.8,805.4 620.0,814.4 619.9,816.0 616.4,813.5 616.2,811.7 613.0,780.3 612.6,781.5 609.2,774.3 608.5,774.8 605.1,773.8 602.8,769.5 601.5,772.8 597.1,783.3 596.6,789.9 591.8,801.3 591.4,804.7 588.5,809.6 585.7,809.2 582.6,811.5 580.0,808.6 578.7,794.3 577.3,792.5 574.1,779.0 573.5,774.1 569.2,763.9 568.4,762.7 563.8,746.9 563.6,744.7 559.7,730.2 559.5,735.9 554.7,747.1 553.7,749.8 550.2,761.2 548.9,760.1 543.3,773.7 543.0,770.6 539.4,777.5 536.5,780.8 536.1,783.7 532.2,786.5 529.7,781.0 529.1,781.0 523.3,785.1 522.8,783.9 517.8,782.1 517.2,778.5 512.4,769.5 511.5,765.9 507.9,752.5 506.9,751.5 504.6,757.8 502.3,753.1 498.7,762.7 497.8,767.3 493.7,768.2 492.1,770.0 488.3,762.4 486.4,761.8 484.6,753.2 480.7,742.8 480.1,744.2 475.0,758.7 474.1,757.6 470.5,756.4 469.9,759.3 465.9,761.3 465.9,759.1 461.3,759.0 461.2,762.4 455.6,751.2 455.5,746.0 452.1,744.7 450.0,744.7 448.3,747.5 444.6,751.3 443.1,753.8 441.0,767.0 439.7,775.3 435.8,778.3 434.0,777.2 431.7,785.1 427.2,789.5 427.0,785.9 423.1,794.4"/>
</g>
<g shape-rendering="crispEdges">
<rect x="1042" y="58" width="752" height="134" fill="#262626"/>
<rect x="1050" y="65" width="737" height="120" fill="#fff"/>
</g>
<circle cx="1093.5" cy="95" r="3.5" fill="#0000ff"/>
<circle cx="1093.5" cy="155" r="3.5" fill="#00ff00"/>
<g font-size="47.4" fill="#000">
<text x="1140" y="114">1-minute moving average-B1C</text>
<text x="1140" y="174">5-minute moving average-B1C</text>
</g>
<g font-size="53.3" fill="#262626" text-anchor="middle">
<text x="194.0" y="1213">13</text>
<text x="373.7" y="1213">14</text>
<text x="553.4" y="1213">15</text>
<text x="733.2" y="1213">16</text>
<text x="912.9" y="1213">17</text>
<text x="1092.6" y="1213">18</text>
<text x="1272.3" y="1213">19</text>
<text x="1452.0" y="1213">20</text>
<text x="1631.8" y="1213">21</text>
<text x="1811.5" y="1213">22</text>
</g>
<g font-size="53.3" fill="#262626" text-anchor="end">
<text x="177" y="61.0">2</text>
<text x="177" y="244.9">1.5</text>
<text x="177" y="428.8">1</text>
<text x="177" y="612.7">0.5</text>
<text x="177" y="796.7">0</text>
<text x="177" y="980.6">-0.5</text>
<text x="177" y="1164.5">-1</text>
</g>
<g font-size="58.7" fill="#262626" text-anchor="middle">
<text x="1002.5" y="1284.5">Local Time (h)</text>
<text transform="translate(66,591.5) rotate(-90)" font-size="58.1">Residual(m)</text>
</g>
</svg></body></html>
